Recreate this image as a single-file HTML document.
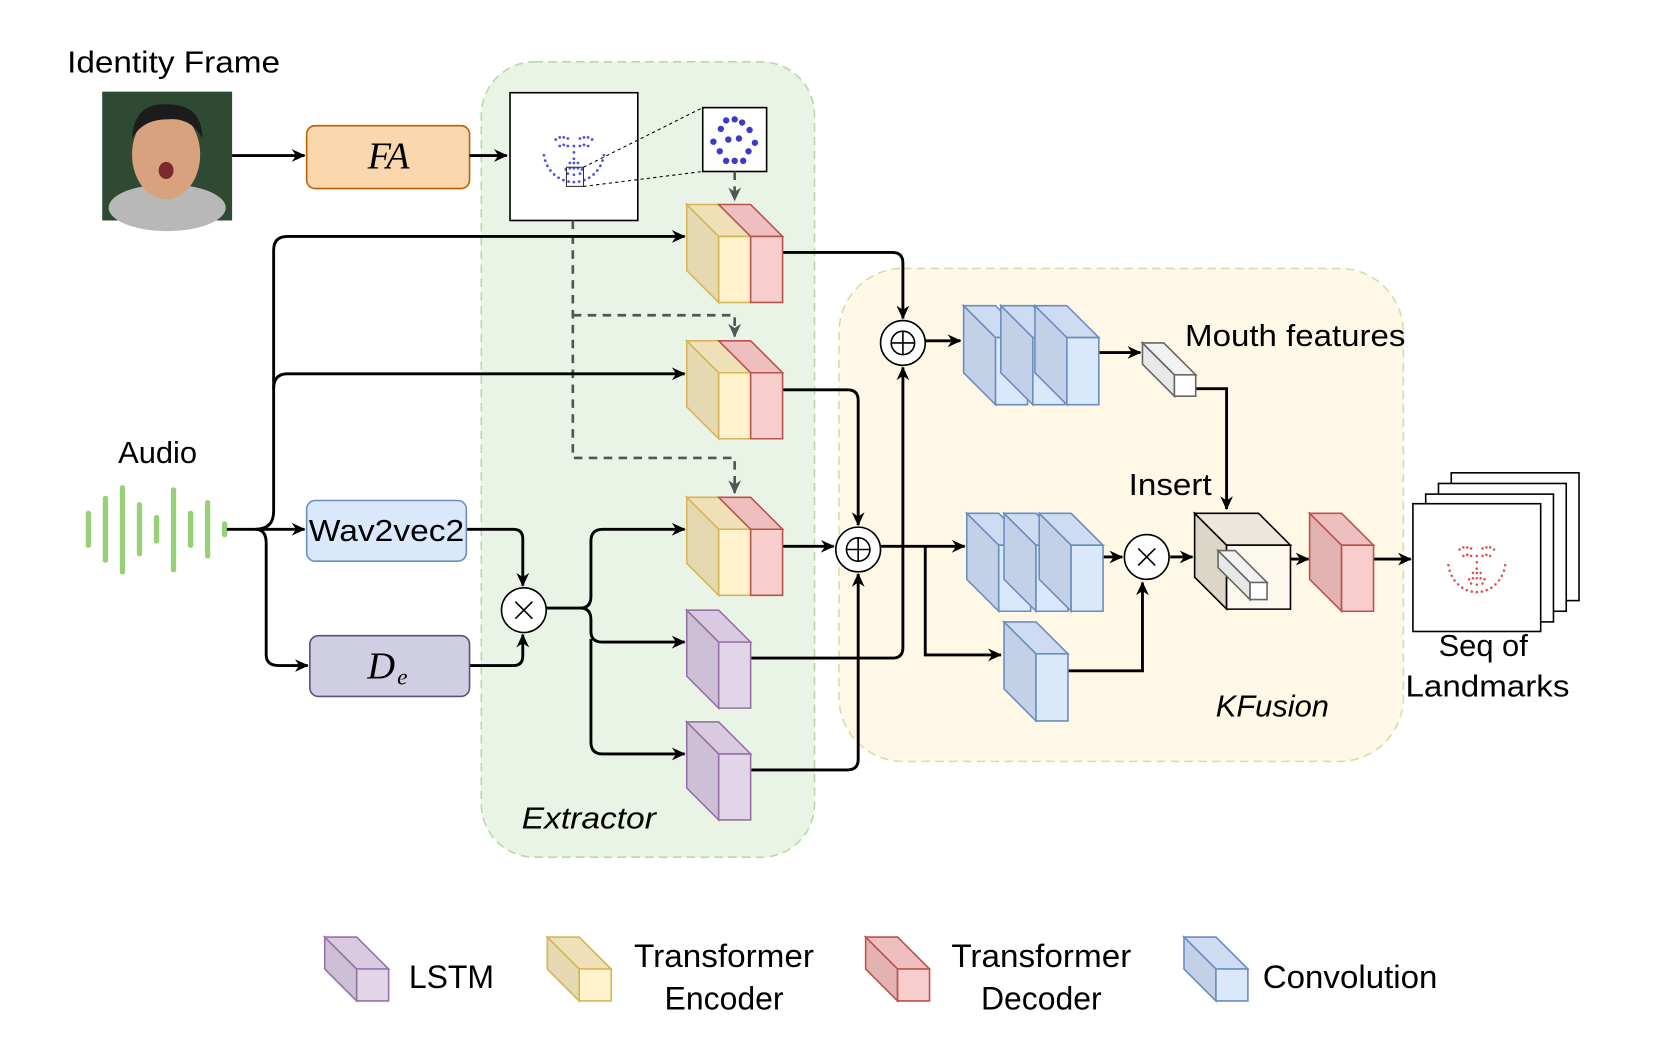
<!DOCTYPE html>
<html><head><meta charset="utf-8"><style>
html,body{margin:0;padding:0;background:#fff;}
svg{display:block;}
text{font-family:"Liberation Sans",sans-serif;fill:#000;}
text.m{font-family:"Liberation Serif",serif;}
</style></head><body>
<svg id="s" width="1661" height="1050" viewBox="0 0 1560 986" xmlns="http://www.w3.org/2000/svg">
<defs>
<marker id="a" markerWidth="14" markerHeight="14" refX="12" refY="7" orient="auto" markerUnits="userSpaceOnUse"><path d="M0,1 L13,7 L0,13 L4,7 z" fill="#000"/></marker>
<marker id="ag" markerWidth="14" markerHeight="14" refX="12" refY="7" orient="auto" markerUnits="userSpaceOnUse"><path d="M0,1 L13,7 L0,13 L4,7 z" fill="#555"/></marker>
</defs>
<rect x="452" y="58" width="313" height="747" rx="50" fill="#e9f3e6" stroke="#b9d9a6" stroke-width="1.5" stroke-dasharray="8,5"/>
<rect x="788" y="252" width="530" height="463" rx="60" fill="#fff8e6" stroke="#d8dca8" stroke-width="1.5" stroke-dasharray="8,5"/>
<text x="63" y="68" font-size="29" textLength="200" lengthAdjust="spacingAndGlyphs">Identity Frame</text>
<rect x="96" y="86" width="122" height="121" fill="#2f4a33"/>
<ellipse cx="157" cy="195" rx="55" ry="22" fill="#b8b8b8"/>
<ellipse cx="156" cy="145" rx="32" ry="42" fill="#d9a27f"/>
<path d="M124,130 Q126,96 157,98 Q190,98 190,130 Q180,110 157,112 Q134,112 124,130z" fill="#1c1c1c"/>
<ellipse cx="156" cy="160" rx="7" ry="8" fill="#7a2a2a"/>
<rect x="288" y="118" width="153" height="59" rx="8" fill="#fad7ac" stroke="#b46504" stroke-width="1.5"/>
<text class="m" x="365" y="158" font-size="36" font-style="italic" text-anchor="middle">FA</text>
<rect x="479" y="87" width="120" height="120" fill="#fff" stroke="#000" stroke-width="1.5"/>
<g id="dots" fill="#5050d8"></g>
<rect x="532" y="157" width="16" height="18" fill="none" stroke="#333" stroke-width="1"/>
<rect x="660" y="101" width="60" height="60" fill="#fff" stroke="#000" stroke-width="1.5"/>
<g fill="#3a3acc"><circle cx="682" cy="113" r="3"/><circle cx="690" cy="112" r="3"/><circle cx="697" cy="115" r="3"/><circle cx="677" cy="121" r="3"/><circle cx="704" cy="122" r="3"/><circle cx="670" cy="133" r="3"/><circle cx="709" cy="134" r="3"/><circle cx="684" cy="131" r="3"/><circle cx="694" cy="130" r="3"/><circle cx="676" cy="142" r="3"/><circle cx="703" cy="142" r="3"/><circle cx="682" cy="151" r="3"/><circle cx="690" cy="151" r="3"/><circle cx="698" cy="151" r="3"/></g>
<line x1="548" y1="157" x2="660" y2="101" stroke="#000" stroke-dasharray="3,3"/>
<line x1="548" y1="175" x2="660" y2="161" stroke="#000" stroke-dasharray="3,3"/>
<g fill="none" stroke="#555" stroke-width="2.5" stroke-dasharray="8,6">
<line x1="690" y1="161" x2="690" y2="188" marker-end="url(#ag)"/>
<path d="M538,207 V430 H690 V463" marker-end="url(#ag)"/>
<path d="M538,296 H690 V316" marker-end="url(#ag)"/>
</g>
<text x="148" y="435" font-size="29" text-anchor="middle">Audio</text>
<g stroke="#97d077" stroke-width="5" stroke-linecap="round">
<line x1="83" y1="482" x2="83" y2="512"/><line x1="99" y1="468" x2="99" y2="526"/><line x1="115" y1="458" x2="115" y2="537"/><line x1="131" y1="474" x2="131" y2="520"/><line x1="147" y1="486" x2="147" y2="508"/><line x1="163" y1="460" x2="163" y2="535"/><line x1="179" y1="482" x2="179" y2="512"/><line x1="195" y1="472" x2="195" y2="522"/><line x1="211" y1="492" x2="211" y2="502"/>
</g>
<g fill="none" stroke="#000" stroke-width="2.7">
<line x1="218" y1="146" x2="286" y2="146" marker-end="url(#a)"/>
<line x1="441" y1="146" x2="476" y2="146" marker-end="url(#a)"/>
<line x1="213" y1="497" x2="286" y2="497" marker-end="url(#a)"/>
<path d="M240,497 Q257,497 257,480 V235 Q257,222 270,222 H643" marker-end="url(#a)"/>
<path d="M257,365 Q257,351 270,351 H643" marker-end="url(#a)"/>
<path d="M240,497 Q250,497 250,510 V615 Q250,625 262,625 H289" marker-end="url(#a)"/>
<path d="M438,497 H482 Q491,497 491,506 V550" marker-end="url(#a)"/>
<path d="M441,625 H482 Q491,625 491,616 V596" marker-end="url(#a)"/>
<path d="M513,571 H545 Q555,571 555,560 V508 Q555,497 566,497 H643" marker-end="url(#a)"/>
<path d="M545,571 Q555,571 555,582 V593 Q555,603 566,603 H643" marker-end="url(#a)"/>
<path d="M555,600 V697 Q555,708 566,708 H643" marker-end="url(#a)"/>
<path d="M735,237 H838 Q848,237 848,247 V299" marker-end="url(#a)"/>
<path d="M735,366 H796 Q806,366 806,376 V493" marker-end="url(#a)"/>
<line x1="735" y1="513" x2="783" y2="513" marker-end="url(#a)"/>
<path d="M705,618 H838 Q848,618 848,608 V345" marker-end="url(#a)"/>
<path d="M705,723 H796 Q806,723 806,713 V539" marker-end="url(#a)"/>
<line x1="869" y1="320" x2="902" y2="320" marker-end="url(#a)"/>
<line x1="1032" y1="331" x2="1071" y2="331" marker-end="url(#a)"/>
<path d="M1123,365 H1152 V478" marker-end="url(#a)"/>
<line x1="827" y1="513" x2="906" y2="513" marker-end="url(#a)"/>
<path d="M869,513 V615 H940" marker-end="url(#a)"/>
<line x1="1036" y1="523" x2="1054" y2="523" marker-end="url(#a)"/>
<path d="M1003,630 H1073 V547" marker-end="url(#a)"/>
<line x1="1099" y1="523" x2="1120" y2="523" marker-end="url(#a)"/>
<line x1="1212" y1="525" x2="1229" y2="525" marker-end="url(#a)"/>
<line x1="1290" y1="525" x2="1325" y2="525" marker-end="url(#a)"/>
</g>
<rect x="288" y="470" width="150" height="57" rx="8" fill="#dae8fc" stroke="#6c8ebf" stroke-width="1.5"/>
<text x="363" y="508" font-size="29" text-anchor="middle" textLength="146" lengthAdjust="spacingAndGlyphs">Wav2vec2</text>
<rect x="291" y="597" width="150" height="57" rx="8" fill="#d0cee2" stroke="#56517e" stroke-width="1.5"/>
<text class="m" x="345" y="637" font-size="36" font-style="italic">D</text><text class="m" x="373" y="643" font-size="22" font-style="italic">e</text>
<g id="cubes"></g>
<g fill="#fff" stroke="#000" stroke-width="1.5">
<circle cx="492" cy="573" r="21"/><circle cx="848" cy="322" r="21"/><circle cx="806" cy="516" r="21"/><circle cx="1077" cy="523" r="21"/>
</g>
<g stroke="#000" stroke-width="1.5" fill="none">
<path d="M484,565 L500,581 M500,565 L484,581"/><path d="M1069,515 L1085,531 M1085,515 L1069,531"/>
<circle cx="848" cy="322" r="11"/><path d="M837,322 H859 M848,311 V333"/>
<circle cx="806" cy="516" r="11"/><path d="M795,516 H817 M806,505 V527"/>
</g>
<g stroke="#000" stroke-width="1.5">
<rect x="1363" y="444" width="120" height="120" fill="#fff"/><rect x="1351" y="454" width="120" height="120" fill="#fff"/><rect x="1339" y="464" width="120" height="120" fill="#fff"/><rect x="1327" y="473" width="120" height="120" fill="#fff"/>
</g>
<g id="rdots" fill="#e05050"></g>
<text x="1113" y="325" font-size="29" textLength="207" lengthAdjust="spacingAndGlyphs">Mouth features</text>
<text x="1060" y="465" font-size="29" textLength="78" lengthAdjust="spacingAndGlyphs">Insert</text>
<text x="1393" y="616" font-size="29" text-anchor="middle">Seq of</text>
<text x="1397" y="654" font-size="29" text-anchor="middle" textLength="154" lengthAdjust="spacingAndGlyphs">Landmarks</text>
<text x="1195" y="673" font-size="29" font-style="italic" text-anchor="middle">KFusion</text>
<text x="553" y="778" font-size="29" font-style="italic" text-anchor="middle" textLength="126" lengthAdjust="spacingAndGlyphs">Extractor</text>
<text x="424" y="928" font-size="30" text-anchor="middle">LSTM</text>
<text x="680" y="908" font-size="30" text-anchor="middle" textLength="169" lengthAdjust="spacingAndGlyphs">Transformer</text>
<text x="680" y="948" font-size="30" text-anchor="middle">Encoder</text>
<text x="978" y="908" font-size="30" text-anchor="middle" textLength="169" lengthAdjust="spacingAndGlyphs">Transformer</text>
<text x="978" y="948" font-size="30" text-anchor="middle">Decoder</text>
<text x="1268" y="928" font-size="30" text-anchor="middle" textLength="164" lengthAdjust="spacingAndGlyphs">Convolution</text>
</svg>
<script>
var NS="http://www.w3.org/2000/svg",g=document.getElementById("cubes");
function P(pts,f,s,sw){var p=document.createElementNS(NS,"polygon");p.setAttribute("points",pts.map(function(a){return a.join(",")}).join(" "));p.setAttribute("fill",f);p.setAttribute("stroke",s);p.setAttribute("stroke-width",sw||1.5);g.appendChild(p);}
var C={L:["#e1d5e7","#cdbfd6","#d9cae1","#9673a6"],E:["#fff2cc","#e6d8b0","#f0e0b8","#d6b656"],D:["#f8cecc","#e3b3b1","#eebfbe","#b85450"],V:["#dae8fc","#c3d1e8","#cddcf2","#6c8ebf"],W:["#ffffff","#e8e8e8","#f2f2f2","#666"],I:["#fdf8ee","#dcd6c6","#ece7dc","#000"]};
function cube(x,y,w,h,d,k,noside){var c=C[k];
if(!noside)P([[x,y],[x+d,y+d],[x+d,y+d+h],[x,y+h]],c[1],c[3]);
P([[x,y],[x+w,y],[x+w+d,y+d],[x+d,y+d]],c[2],c[3]);
P([[x+d,y+d],[x+d+w,y+d],[x+d+w,y+d+h],[x+d,y+d+h]],c[0],c[3]);}
function combo(y){cube(645,y,30,62,30,"E");cube(675,y,30,62,30,"D",true);}
combo(192);combo(320);combo(467);
cube(645,573,30,62,30,"L");cube(645,678,30,62,30,"L");
cube(905,287,30,63,30,"V");cube(940,287,30,63,30,"V");cube(972,287,30,63,30,"V");
cube(908,482,30,62,30,"V");cube(943,482,30,62,30,"V");cube(976,482,30,62,30,"V");
cube(943,584,30,63,30,"V");
cube(1073,322,20,20,30,"W");
cube(1122,482,60,60,30,"I");
cube(1144,517,16,16,30,"W");
cube(1230,482,30,62,30,"D");
cube(305,880,30,30,30,"L");cube(514,880,30,30,30,"E");cube(813,880,30,30,30,"D");cube(1112,880,30,30,30,"V");
function face(id,cx,cy,sx,sy,r){var gg=document.getElementById(id);
var pts=[];for(var i=0;i<17;i++){var a=Math.PI*(0.05+0.9*i/16);pts.push([cx-sx*30*Math.cos(a),cy+sy*30*Math.sin(a)-sy*14]);}
[[-18,-24],[-14,-26],[-10,-26],[-6,-25],[6,-25],[10,-26],[14,-26],[18,-24],[-14,-18],[-10,-19],[-6,-18],[6,-18],[10,-19],[14,-18],[0,-18],[0,-12],[0,-6],[-4,-2],[0,-2],[4,-2],[-8,4],[-4,3],[0,3],[4,3],[8,4],[-6,8],[0,9],[6,8]].forEach(function(p){pts.push([cx+p[0]*sx,cy+p[1]*sy]);});
pts.forEach(function(p){var c=document.createElementNS(NS,"circle");c.setAttribute("cx",p[0]);c.setAttribute("cy",p[1]);c.setAttribute("r",r);gg.appendChild(c);});}
face("dots",539,155,0.95,1.0,1.3);face("rdots",1387,540,0.9,1.0,1.2);
</script>
</body></html>
